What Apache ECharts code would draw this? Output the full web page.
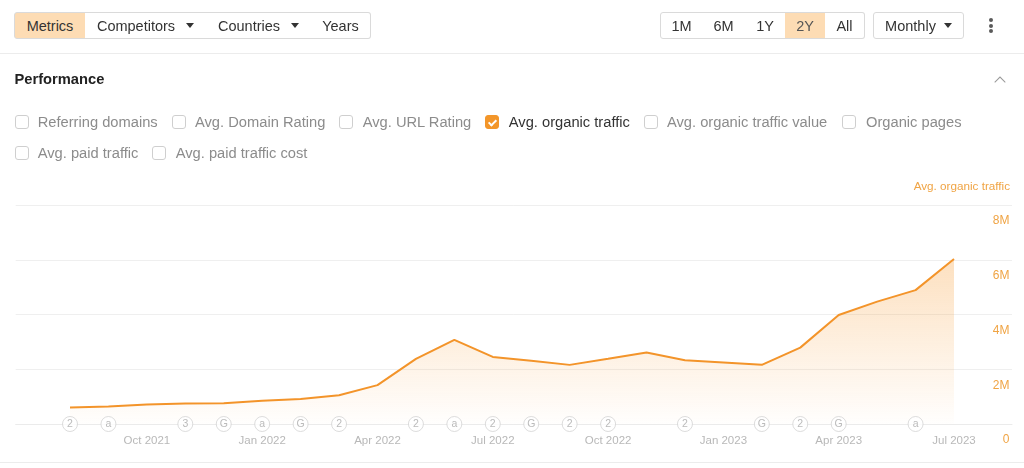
<!DOCTYPE html>
<html>
<head>
<meta charset="utf-8">
<script src="https://cdn.jsdelivr.net/npm/echarts@6/dist/echarts.min.js"></script>
<style>
  html, body { margin:0; padding:0; background:#fff; }
  body { width:1024px; height:468px; overflow:hidden; position:relative;
         font-family:"Liberation Sans", Arial, sans-serif; color:#333; }
  #chart { position:absolute; left:0; top:0; width:1024px; height:468px; }
  .ui { position:absolute; z-index:2; box-sizing:border-box; }
  .btn { height:27px; top:12px; border:1px solid #dadada; font-size:14.5px; color:#333;
         display:flex; align-items:center; justify-content:center; background:#fff; }
  .btn.on { background:#fddcb4; }
  .caret { display:inline-block; width:0; height:0; border-left:4px solid transparent;
           border-right:4px solid transparent; border-top:5px solid #333; margin-left:11px; }
  .sep { position:absolute; left:0; width:1024px; height:1px; background:#ececec; }
  .cb { width:14px; height:14px; border:1px solid #cfcfcf; border-radius:3px; background:#fff; }
  .cb.on { background:#f3962a; border-color:#f3962a; }
  .cb.on::after { content:""; position:absolute; left:4px; top:1.5px; width:3px; height:6px;
           border-right:2px solid #fff; border-bottom:2px solid #fff; transform:rotate(45deg); }
  .lbl { font-size:14.7px; color:#8c8c8c; height:20px; line-height:20px; white-space:nowrap; }
  .lbl.on { color:#333; }
  .dot { width:4px; height:4px; border-radius:2px; background:#5a5a5a; }
</style>
</head>
<body>
<div id="chart"></div>

<!-- toolbar left -->
<div class="ui btn on" style="left:14px;width:72px;border-radius:3px 0 0 3px;">Metrics</div>
<div class="ui btn" style="left:85px;width:122px;border-left:none;">Competitors<span class="caret"></span></div>
<div class="ui btn" style="left:206px;width:106px;border-left:none;">Countries<span class="caret"></span></div>
<div class="ui btn" style="left:311px;width:60px;border-left:none;border-radius:0 3px 3px 0;">Years</div>

<!-- toolbar right -->
<div class="ui btn" style="left:660px;width:43px;border-radius:3px 0 0 3px;">1M</div>
<div class="ui btn" style="left:702px;width:44px;border-left:none;">6M</div>
<div class="ui btn" style="left:745px;width:41px;border-left:none;">1Y</div>
<div class="ui btn on" style="left:785px;width:41px;border-left:none;color:#555;">2Y</div>
<div class="ui btn" style="left:825px;width:40px;border-left:none;border-radius:0 3px 3px 0;">All</div>
<div class="ui btn" style="left:873px;width:91px;border-radius:3px;">Monthly<span class="caret" style="margin-left:8px"></span></div>
<div class="ui dot" style="left:989px;top:18px;"></div>
<div class="ui dot" style="left:989px;top:23.5px;"></div>
<div class="ui dot" style="left:989px;top:29px;"></div>

<div class="sep" style="top:53px;"></div>

<div class="ui" style="left:14.5px;top:69px;font-size:14.7px;font-weight:bold;color:#222;line-height:20px;">Performance</div>
<div class="ui" style="left:996px;top:78px;width:8px;height:8px;border-left:1.6px solid #9a9a9a;border-top:1.6px solid #9a9a9a;transform:rotate(45deg);"></div>

<!-- metric checkboxes -->
<div class="ui cb" style="left:14.5px;top:115px;"></div>
<div class="ui lbl" style="left:37.7px;top:111.5px;">Referring domains</div>
<div class="ui cb" style="left:171.7px;top:115px;"></div>
<div class="ui lbl" style="left:195px;top:111.5px;">Avg. Domain Rating</div>
<div class="ui cb" style="left:339.3px;top:115px;"></div>
<div class="ui lbl" style="left:362.7px;top:111.5px;">Avg. URL Rating</div>
<div class="ui cb on" style="left:485.2px;top:115px;"></div>
<div class="ui lbl on" style="left:508.8px;top:111.5px;">Avg. organic traffic</div>
<div class="ui cb" style="left:644px;top:115px;"></div>
<div class="ui lbl" style="left:667px;top:111.5px;">Avg. organic traffic value</div>
<div class="ui cb" style="left:842px;top:115px;"></div>
<div class="ui lbl" style="left:866px;top:111.5px;">Organic pages</div>

<div class="ui cb" style="left:14.5px;top:145.5px;"></div>
<div class="ui lbl" style="left:37.7px;top:142.5px;">Avg. paid traffic</div>
<div class="ui cb" style="left:151.7px;top:145.5px;"></div>
<div class="ui lbl" style="left:175.7px;top:142.5px;">Avg. paid traffic cost</div>

<div class="sep" style="top:462px;"></div>

<script>
// ---------- data ----------
const months = ['Aug 2021','Sep 2021','Oct 2021','Nov 2021','Dec 2021','Jan 2022','Feb 2022','Mar 2022',
  'Apr 2022','May 2022','Jun 2022','Jul 2022','Aug 2022','Sep 2022','Oct 2022','Nov 2022','Dec 2022',
  'Jan 2023','Feb 2023','Mar 2023','Apr 2023','May 2023','Jun 2023','Jul 2023'];
const organicTraffic = [600000, 640000, 710000, 750000, 760000, 850000, 910000, 1050000,
  1420000, 2380000, 3070000, 2450000, 2310000, 2160000, 2380000, 2610000, 2330000,
  2250000, 2160000, 2790000, 3980000, 4470000, 4890000, 6030000];
const xTickLabels = ['Oct 2021','Jan 2022','Apr 2022','Jul 2022','Oct 2022','Jan 2023','Apr 2023','Jul 2023'];
const yTickLabels = ['0','2M','4M','6M','8M'];
const markerMonths = ['Aug 2021','Sep 2021','Nov 2021','Dec 2021','Jan 2022','Feb 2022','Mar 2022',
  'May 2022','Jun 2022','Jul 2022','Aug 2022','Sep 2022','Oct 2022','Dec 2022','Feb 2023','Mar 2023',
  'Apr 2023','Jun 2023'];
const markerLabels = ['2','a','3','G','a','G','2','2','a','2','G','2','2','2','G','2','G','a'];
const seriesName = 'Avg. organic traffic';

// ---------- chart ----------
const chart = echarts.init(document.getElementById('chart'), null, {renderer:'canvas'});
const orange = '#f3942a';
const lineData = organicTraffic.map((v, i) => [i, v]);
const markerData = markerMonths.map((m, i) => [months.indexOf(m), 0, markerLabels[i]]);

chart.setOption({
  animation: false,
  textStyle: { fontFamily: '"Liberation Sans", Arial, sans-serif' },
  title: {
    text: seriesName,
    right: 14, top: 181,
    textStyle: { color: '#f0a444', fontSize: 11.7, fontWeight: 'normal' },
    padding: 0
  },
  grid: { left: 15.7, right: 12, top: 205, bottom: 44, containLabel: false, outerBoundsMode: 'none' },
  xAxis: {
    type: 'value',
    min: -1.413, max: 24.509,
    axisLine: { show: true, lineStyle: { color: '#ebebeb', width: 1 } },
    axisTick: { show: false },
    splitLine: { show: false },
    axisLabel: {
      customValues: xTickLabels.map(l => months.indexOf(l)),
      formatter: v => months[Math.round(v)],
      color: '#b8b8b8', fontSize: 11.5, margin: 11
    }
  },
  yAxis: {
    type: 'value',
    position: 'right',
    min: 0, max: 8000000, interval: 2000000,
    axisLine: { show: false },
    axisTick: { show: false },
    splitLine: { lineStyle: { color: '#efefef', width: 1 } },
    axisLabel: {
      inside: true, margin: 2.5,
      verticalAlign: 'top', padding: [10, 0, 0, 0],
      color: '#f0a444', fontSize: 12,
      formatter: v => yTickLabels[Math.round(v / 2000000)]
    }
  },
  series: [
    {
      name: seriesName,
      type: 'line',
      data: lineData,
      symbol: 'none',
      lineStyle: { color: orange, width: 2 },
      itemStyle: { color: orange },
      areaStyle: {
        color: new echarts.graphic.LinearGradient(0, 0, 0, 1, [
          { offset: 0, color: 'rgba(247,150,40,0.42)' },
          { offset: 1, color: 'rgba(247,150,40,0.01)' }
        ])
      },
      z: 2
    },
    {
      type: 'scatter',
      data: markerData,
      symbol: 'circle',
      symbolSize: 15,
      silent: true,
      itemStyle: { color: '#fff', borderColor: '#d3d3d3', borderWidth: 1 },
      label: { show: true, position: 'inside', formatter: p => p.value[2], color: '#aaaaaa', fontSize: 10.5 },
      z: 5
    }
  ]
});
</script>
</body>
</html>
